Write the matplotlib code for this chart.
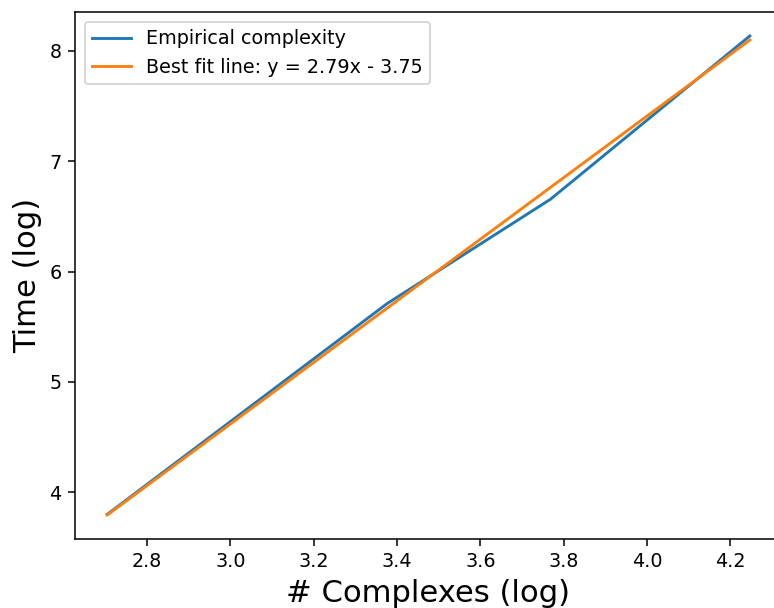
import matplotlib
matplotlib.use('Agg')
import matplotlib.pyplot as plt
import numpy as np


# log10 of number of complexes and log10 of time
complexes_log = [2.704, 3.376, 3.768, 4.247]
time_log = [3.80, 5.71, 6.655, 8.136]

slope = 2.79
intercept = -3.75


def main():
    x = np.array(complexes_log)
    fit = slope * x + intercept

    fig = plt.figure(figsize=(774 / 138, 608 / 138), dpi=138)
    # axes run a bit past the right edge, as in the reference crop
    ax = fig.add_axes([0.0969, 0.1135, 0.9134, 0.8668])

    ax.plot(x, time_log, label='Empirical complexity')
    ax.plot(x, fit, label='Best fit line: y = %.2fx - %.2f' % (slope, -intercept))
    ax.legend(loc='upper left')

    ax.set_xlabel('# Complexes (log)', fontsize=16)
    ax.set_ylabel('Time (log)', fontsize=16)

    fig.savefig('out.png', dpi=138)


if __name__ == '__main__':
    main()
